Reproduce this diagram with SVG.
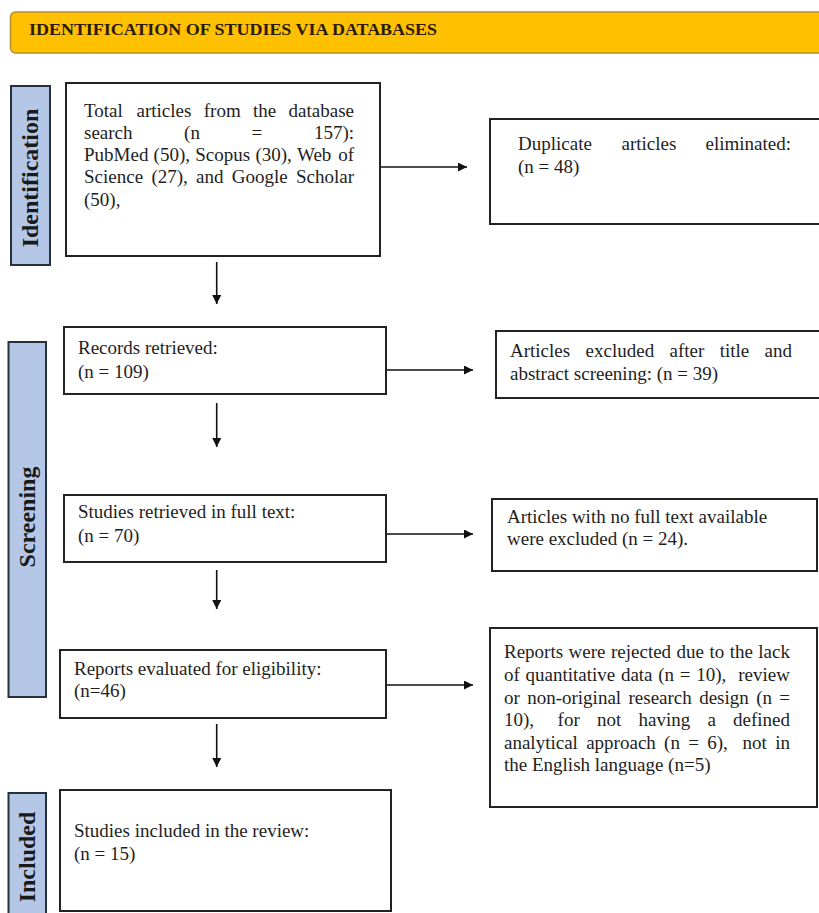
<svg xmlns="http://www.w3.org/2000/svg" width="819" height="913" viewBox="0 0 819 913">
<defs>
<style>
.t{font-family:"Liberation Serif","Times New Roman",serif;font-size:19px;fill:#1e1e1e}
.e{text-anchor:end}
.box{fill:#fff;stroke:#222;stroke-width:2}
.side{fill:#B4C7E7;stroke:#26303f;stroke-width:2}
.lab{font-family:"Liberation Serif","Times New Roman",serif;font-size:24px;font-weight:bold;fill:#1a1a1a;text-anchor:middle}
.c{stroke:#111;stroke-width:1.6;fill:none}
</style>
<marker id="ah" viewBox="0 0 10 10" refX="10" refY="5" markerWidth="10" markerHeight="9" markerUnits="userSpaceOnUse" orient="auto">
<path d="M0,0 L10,5 L0,10 z" fill="#111"/>
</marker>
</defs>
<rect width="819" height="913" fill="#fff"/>

<g id="banner">
<rect x="10.5" y="12" width="820" height="41" rx="5" fill="#FFC000" stroke="#B8902A" stroke-width="1.5"/>
<text x="29" y="35" font-family="'Liberation Serif','Times New Roman',serif" font-size="17.5" font-weight="bold" fill="#2a1a0a" textLength="408" lengthAdjust="spacingAndGlyphs">IDENTIFICATION OF STUDIES VIA DATABASES</text>
</g>

<g id="label-identification">
<rect class="side" x="11" y="86" width="39" height="179"/>
<text class="lab" transform="translate(38,178) rotate(-90)">Identification</text>
</g>
<g id="label-screening">
<rect class="side" x="8.5" y="342" width="37.5" height="355"/>
<text class="lab" transform="translate(35,517) rotate(-90)">Screening</text>
</g>
<g id="label-included">
<rect class="side" x="8.5" y="793" width="37.5" height="130"/>
<text class="lab" transform="translate(35,857) rotate(-90)">Included</text>
</g>

<g id="node-total">
<rect class="box" x="66" y="83" width="314" height="173"/>
<text class="t" y="116.5"><tspan x="84">Total</tspan><tspan x="136.5">articles</tspan><tspan x="203.8">from</tspan><tspan x="253.1">the</tspan></text>
<text class="t e" x="354" y="116.5">database</text>
<text class="t" y="138.8"><tspan x="84">search</tspan><tspan x="184.1">(n</tspan><tspan x="251.5">=</tspan></text>
<text class="t e" x="354" y="138.8">157):</text>
<text class="t" y="161.1"><tspan x="84">PubMed</tspan><tspan x="153.6">(50),</tspan><tspan x="195.2">Scopus</tspan><tspan x="255.4">(30),</tspan><tspan x="297">Web</tspan></text>
<text class="t e" x="354" y="161.1">of</text>
<text class="t" y="183.4"><tspan x="84">Science</tspan><tspan x="151.4">(27),</tspan><tspan x="196.1">and</tspan><tspan x="231.8">Google</tspan></text>
<text class="t e" x="354" y="183.4">Scholar</text>
<text class="t" x="84" y="205.7">(50),</text>
</g>

<g id="node-duplicates">
<rect class="box" x="490" y="119" width="340" height="105"/>
<text class="t" y="150"><tspan x="518">Duplicate</tspan><tspan x="621.5">articles</tspan></text>
<text class="t e" x="791" y="150">eliminated:</text>
<text class="t" x="518" y="173">(n = 48)</text>
</g>

<g id="node-records">
<rect class="box" x="64" y="327" width="322" height="67"/>
<text class="t" x="78" y="354.3">Records retrieved:</text>
<text class="t" x="78" y="378.3">(n = 109)</text>
</g>

<g id="node-excluded-title">
<rect class="box" x="496" y="331" width="334" height="67"/>
<text class="t" y="356.7"><tspan x="510">Articles</tspan><tspan x="585.6">excluded</tspan><tspan x="669.5">after</tspan><tspan x="719.7">title</tspan></text>
<text class="t e" x="792" y="356.7">and</text>
<text class="t" x="510" y="380">abstract screening: (n = 39)</text>
</g>

<g id="node-fulltext">
<rect class="box" x="64" y="495" width="322" height="67"/>
<text class="t" x="78" y="518.3">Studies retrieved in full text:</text>
<text class="t" x="78" y="542.3">(n = 70)</text>
</g>

<g id="node-no-fulltext">
<rect class="box" x="492" y="499" width="325" height="72"/>
<text class="t" x="507" y="523.3">Articles with no full text available</text>
<text class="t" x="507" y="545">were excluded (n = 24).</text>
</g>

<g id="node-eligibility">
<rect class="box" x="60" y="650" width="326" height="68"/>
<text class="t" x="74" y="675">Reports evaluated for eligibility:</text>
<text class="t" x="74" y="696.7">(n=46)</text>
</g>

<g id="node-rejected">
<rect class="box" x="490" y="628" width="327" height="179"/>
<text class="t" y="658.3"><tspan x="504">Reports</tspan><tspan x="568.6">were</tspan><tspan x="611">rejected</tspan><tspan x="676.6">due</tspan><tspan x="709.5">to</tspan><tspan x="729.8">the</tspan></text>
<text class="t e" x="790" y="658.3">lack</text>
<text class="t" y="681"><tspan x="504">of</tspan><tspan x="525.5">quantitative</tspan><tspan x="620.9">data</tspan><tspan x="658.3">(n</tspan><tspan x="679.8">=</tspan><tspan x="696.2">10),</tspan></text>
<text class="t e" x="790" y="681">review</text>
<text class="t" y="703.6"><tspan x="504">or</tspan><tspan x="527.2">non-original</tspan><tspan x="628.5">research</tspan><tspan x="699.2">design</tspan><tspan x="756.2">(n</tspan></text>
<text class="t e" x="790" y="703.6">=</text>
<text class="t" y="726.2"><tspan x="504">10),</tspan><tspan x="557.6">for</tspan><tspan x="597">not</tspan><tspan x="638.5">having</tspan><tspan x="707.4">a</tspan></text>
<text class="t e" x="790" y="726.2">defined</text>
<text class="t" y="748.8"><tspan x="504">analytical</tspan><tspan x="586.2">approach</tspan><tspan x="664.1">(n</tspan><tspan x="688.3">=</tspan><tspan x="707.3">6),</tspan><tspan x="742.6">not</tspan></text>
<text class="t e" x="790" y="748.8">in</text>
<text class="t" x="504" y="771.4">the English language (n=5)</text>
</g>

<g id="node-included">
<rect class="box" x="60" y="790" width="331" height="121"/>
<text class="t" x="74" y="836.7">Studies included in the review:</text>
<text class="t" x="74" y="860">(n = 15)</text>
</g>

<g id="connectors">
<line class="c" x1="381" y1="167" x2="467" y2="167" marker-end="url(#ah)"/>
<line class="c" x1="216.7" y1="262" x2="216.7" y2="304" marker-end="url(#ah)"/>
<line class="c" x1="387" y1="370" x2="473" y2="370" marker-end="url(#ah)"/>
<line class="c" x1="216.7" y1="403" x2="216.7" y2="447" marker-end="url(#ah)"/>
<line class="c" x1="387" y1="534" x2="473" y2="534" marker-end="url(#ah)"/>
<line class="c" x1="216.7" y1="570" x2="216.7" y2="609" marker-end="url(#ah)"/>
<line class="c" x1="387" y1="685" x2="473" y2="685" marker-end="url(#ah)"/>
<line class="c" x1="216.7" y1="724" x2="216.7" y2="767" marker-end="url(#ah)"/>
</g>
</svg>
